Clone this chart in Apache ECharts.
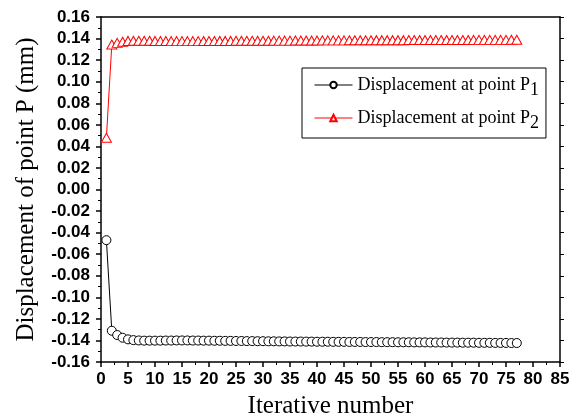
<!DOCTYPE html>
<html>
<head>
<meta charset="utf-8">
<script src="https://cdn.jsdelivr.net/npm/echarts@6/dist/echarts.min.js"></script>
<style>
  html, body { margin: 0; padding: 0; background: #fff; }
  #chart { width: 582px; height: 418px; }
</style>
</head>
<body>
<div id="chart"></div>
<script>
// Iteration index 1..77
const iterations = Array.from({ length: 77 }, (_, i) => i + 1);

// Displacement at point P1 (mm)
const p1 = [
  -0.047, -0.131, -0.135, -0.1375, -0.139, -0.1397, -0.1400, -0.1402, -0.1402, -0.1402,
  -0.1402, -0.1401, -0.1401, -0.1400, -0.1400, -0.1400, -0.1401, -0.1401, -0.1402, -0.1402,
  -0.1403, -0.1403, -0.1404, -0.1404, -0.1405, -0.1405, -0.1406, -0.1406, -0.1407, -0.1407,
  -0.1408, -0.1408, -0.1409, -0.1409, -0.1410, -0.1410, -0.1410, -0.1411, -0.1411, -0.1412,
  -0.1412, -0.1412, -0.1413, -0.1413, -0.1413, -0.1414, -0.1414, -0.1414, -0.1415, -0.1415,
  -0.1415, -0.1416, -0.1416, -0.1416, -0.1417, -0.1417, -0.1417, -0.1418, -0.1418, -0.1418,
  -0.1419, -0.1419, -0.1419, -0.1420, -0.1420, -0.1420, -0.1421, -0.1421, -0.1421, -0.1422,
  -0.1422, -0.1422, -0.1423, -0.1423, -0.1423, -0.1424, -0.1424
];

// Displacement at point P2 (mm)
const p2 = [
  0.048, 0.1345, 0.1360, 0.1370, 0.1378, 0.1380, 0.1380, 0.1380, 0.1379, 0.1378,
  0.1377, 0.1377, 0.1376, 0.1376, 0.1376, 0.1376, 0.1376, 0.1376, 0.1377, 0.1377,
  0.1377, 0.1378, 0.1378, 0.1378, 0.1379, 0.1379, 0.1379, 0.1380, 0.1380, 0.1380,
  0.1380, 0.1381, 0.1381, 0.1381, 0.1381, 0.1382, 0.1382, 0.1382, 0.1382, 0.1382,
  0.1383, 0.1383, 0.1383, 0.1383, 0.1383, 0.1384, 0.1384, 0.1384, 0.1384, 0.1384,
  0.1385, 0.1385, 0.1385, 0.1385, 0.1385, 0.1385, 0.1386, 0.1386, 0.1386, 0.1386,
  0.1386, 0.1386, 0.1387, 0.1387, 0.1387, 0.1387, 0.1387, 0.1387, 0.1388, 0.1388,
  0.1388, 0.1388, 0.1388, 0.1388, 0.1388, 0.1389, 0.1389
];

const seriesNames = ['Displacement at point P1', 'Displacement at point P2'];

const serif = 'Liberation Serif, Times New Roman, serif';
const tickFont = { fontFamily: 'Liberation Sans, Arial, sans-serif', fontWeight: 'bold', fontSize: 17, color: '#000' };
const axisLine = { show: true, onZero: false, lineStyle: { color: '#000', width: 1.5 } };

const chart = echarts.init(document.getElementById('chart'), null, { renderer: 'canvas' });

chart.setOption({
  animation: false,
  backgroundColor: '#fff',
  grid: { left: 101, right: 22, top: 17, bottom: 56, containLabel: false, outerBoundsMode: 'none' },
  legend: {
    data: seriesNames,
    orient: 'vertical',
    left: 302,
    top: 68,
    padding: [8, 7, 6, 12],
    itemGap: 10,
    itemWidth: 38,
    itemHeight: 8,
    lineStyle: { width: 1 },
    borderColor: '#000',
    borderWidth: 1,
    backgroundColor: '#fff',
    formatter: name => name.replace(/P(\d)$/, 'P{sub|$1}'),
    textStyle: {
      fontFamily: serif,
      fontSize: 18,
      color: '#000',
      rich: {
        sub: {
          fontFamily: serif,
          fontSize: 18,
          color: '#000',
          verticalAlign: 'bottom',
          padding: [10, 0, 0, 0]
        }
      }
    }
  },
  xAxis: [
    {
      type: 'value',
      min: 0, max: 85, interval: 5,
      name: 'Iterative number',
      nameLocation: 'middle',
      nameGap: 32,
      nameTextStyle: { fontFamily: serif, fontSize: 25, color: '#000' },
      axisLine: axisLine,
      axisTick: { show: true, inside: false, length: 5, lineStyle: { color: '#000', width: 1.5 } },
      minorTick: { show: true, splitNumber: 2, length: 3, lineStyle: { color: '#000', width: 1 } },
      axisLabel: Object.assign({ margin: 9 }, tickFont),
      splitLine: { show: false }
    },
    {
      type: 'value',
      position: 'top',
      min: 0, max: 85, interval: 5,
      axisLine: axisLine,
      axisTick: { show: false },
      axisLabel: { show: false },
      splitLine: { show: false }
    }
  ],
  yAxis: [
    {
      type: 'value',
      min: -0.16, max: 0.16, interval: 0.02,
      name: 'Displacement of point P (mm)',
      nameLocation: 'middle',
      nameGap: 62,
      nameTextStyle: { fontFamily: serif, fontSize: 25, color: '#000' },
      axisLine: axisLine,
      axisTick: { show: true, inside: false, length: 5, lineStyle: { color: '#000', width: 1.5 } },
      minorTick: { show: true, splitNumber: 2, length: 3, lineStyle: { color: '#000', width: 1 } },
      axisLabel: Object.assign({ margin: 11, formatter: v => v.toFixed(2) }, tickFont),
      splitLine: { show: false }
    },
    {
      type: 'value',
      position: 'right',
      min: -0.16, max: 0.16, interval: 0.02,
      axisLine: axisLine,
      axisTick: { show: true, inside: false, length: 4, lineStyle: { color: '#000', width: 1 } },
      axisLabel: { show: false },
      splitLine: { show: false }
    }
  ],
  series: [
    {
      name: seriesNames[0],
      type: 'line',
      data: iterations.map((x, i) => [x, p1[i]]),
      symbol: 'circle',
      symbolSize: 9,
      showAllSymbol: true,
      itemStyle: { color: '#fff', borderColor: '#000', borderWidth: 1 },
      lineStyle: { color: '#000', width: 1 }
    },
    {
      name: seriesNames[1],
      type: 'line',
      data: iterations.map((x, i) => [x, p2[i]]),
      symbol: 'triangle',
      symbolSize: [10, 9],
      showAllSymbol: true,
      itemStyle: { color: '#fff', borderColor: '#f00', borderWidth: 1 },
      lineStyle: { color: '#f00', width: 1 }
    }
  ]
});
</script>
</body>
</html>
